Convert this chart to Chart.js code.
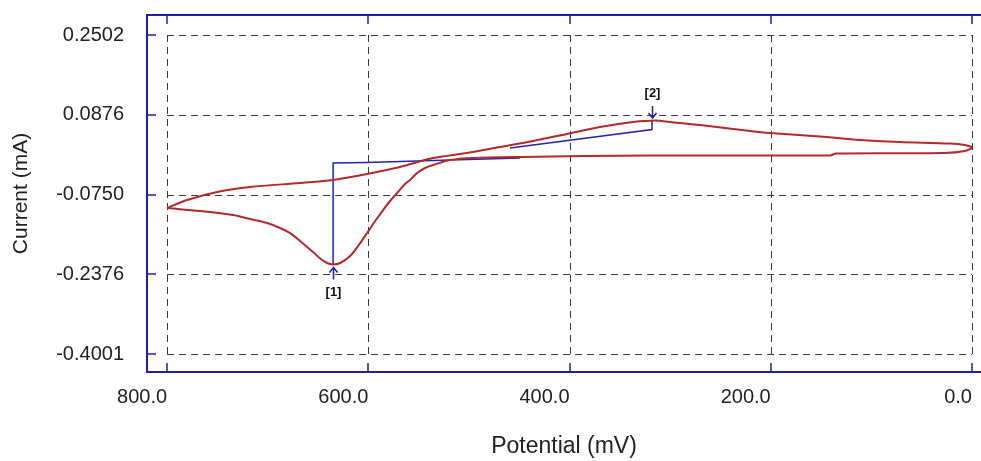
<!DOCTYPE html>
<html>
<head>
<meta charset="utf-8">
<title>Cyclic voltammogram</title>
<script src="https://cdn.jsdelivr.net/npm/chart.js@4.4.1/dist/chart.umd.min.js"></script>
<style>
  html, body { margin: 0; padding: 0; background: #fff; }
  #wrap { width: 981px; height: 461px; }
</style>
</head>
<body>
<div id="wrap"><canvas id="cv" width="981" height="461"></canvas></div>
<script>
// anodic sweep (upper branch), potential in mV, current in mA
const upperPotential = [0, 7.0, 21.9, 71.6, 111.3, 151.1, 200.7, 220.6, 270.3, 300.1, 315.0, 336.9, 369.7, 402.5, 436.3, 469.1, 501.9, 535.7, 568.5, 601.2, 635.0, 667.8, 717.5, 750.3, 780.1, 800];
const upperCurrent = [0.0219, 0.0260, 0.0290, 0.0321, 0.0361, 0.0433, 0.0504, 0.0545, 0.0667, 0.0728, 0.0759, 0.0728, 0.0626, 0.0484, 0.0341, 0.0219, 0.0096, -0.0005, -0.0189, -0.0332, -0.0454, -0.0515, -0.0597, -0.0699, -0.0862, -0.1025];

// cathodic sweep (lower branch)
const lowerPotential = [0, 7.0, 26.8, 135.2, 141.1, 320.0, 449.2, 495.9, 518.8, 535.7, 543.6, 551.5, 558.5, 563.5, 571.4, 578.4, 585.3, 593.2, 601.2, 610.2, 618.1, 628.0, 635.0, 641.0, 647.9, 654.9, 660.9, 667.8, 677.8, 687.7, 700.6, 717.5, 734.4, 767.2, 800];
const lowerCurrent = [0.0198, 0.0137, 0.0097, 0.0086, 0.0046, 0.0046, 0.0015, -0.0005, -0.0046, -0.0148, -0.0209, -0.0311, -0.0454, -0.0535, -0.0719, -0.0882, -0.1066, -0.1290, -0.1534, -0.1799, -0.2003, -0.2146, -0.2177, -0.2146, -0.2054, -0.1922, -0.1820, -0.1697, -0.1538, -0.1432, -0.1331, -0.1249, -0.1167, -0.1086, -0.1025];

// peak baselines
const base1Potential = [635.0, 635.0, 601.2, 518.8, 449.2];
const base1Current = [-0.2177, -0.0107, -0.0097, -0.0046, -0.0005];
const base2Potential = [459.1, 318.0, 318.0];
const base2Current = [0.0198, 0.0576, 0.0749];

// peak markers
const peakPotential = [635.0, 318.0];
const peakCurrent = [-0.2177, 0.0749];
const peakLabels = ["[1]", "[2]"];

const xTicks = [800, 600, 400, 200, 0];
const yTicks = [0.2502, 0.0876, -0.0750, -0.2376, -0.4001];

const toPoints = (xs, ys) => xs.map((x, i) => ({ x: x, y: ys[i] }));

const frameBlue = "#1e1ea6";
const textColor = "#222";
const fontFamily = "'Liberation Sans', Arial, sans-serif";

// dashed grid limited to the tick range, blue frame with inward ticks, peak arrows
const framePlugin = {
  id: "frame",
  beforeDatasetsDraw(chart) {
    const { ctx, scales } = chart;
    const x = scales.x, y = scales.y;
    const x0 = x.getPixelForValue(xTicks[0]), x1 = x.getPixelForValue(xTicks[xTicks.length - 1]);
    const y0 = y.getPixelForValue(yTicks[0]), y1 = y.getPixelForValue(yTicks[yTicks.length - 1]);
    ctx.save();
    ctx.strokeStyle = "#3a3a3a";
    ctx.lineWidth = 1;
    ctx.setLineDash([7, 5]);
    xTicks.forEach((v) => {
      const px = Math.round(x.getPixelForValue(v)) + 0.5;
      ctx.beginPath();
      ctx.moveTo(px, y0);
      ctx.lineTo(px, y1);
      ctx.stroke();
    });
    yTicks.forEach((v) => {
      const py = Math.round(y.getPixelForValue(v)) + 0.5;
      ctx.beginPath();
      ctx.moveTo(x0, py);
      ctx.lineTo(x1, py);
      ctx.stroke();
    });
    ctx.restore();
  },
  afterDatasetsDraw(chart) {
    const { ctx, chartArea, scales } = chart;
    const x = scales.x, y = scales.y;
    const { left, top, right, bottom } = chartArea;
    ctx.save();
    ctx.strokeStyle = frameBlue;
    ctx.lineWidth = 2;
    ctx.beginPath();
    ctx.moveTo(right + 2, top);
    ctx.lineTo(left, top);
    ctx.lineTo(left, bottom);
    ctx.lineTo(right + 2, bottom);
    ctx.stroke();
    ctx.lineWidth = 1.5;
    xTicks.forEach((v) => {
      const px = Math.round(x.getPixelForValue(v));
      ctx.beginPath();
      ctx.moveTo(px, top);
      ctx.lineTo(px, top + 9);
      ctx.moveTo(px, bottom);
      ctx.lineTo(px, bottom - 9);
      ctx.stroke();
    });
    yTicks.forEach((v) => {
      const py = Math.round(y.getPixelForValue(v));
      ctx.beginPath();
      ctx.moveTo(left, py);
      ctx.lineTo(left + 9, py);
      ctx.stroke();
    });

    // peak arrows and labels
    ctx.font = "bold 13px " + fontFamily;
    ctx.textAlign = "center";
    ctx.textBaseline = "middle";
    peakPotential.forEach((p, i) => {
      const px = Math.round(x.getPixelForValue(p)) + 0.5;
      const py = y.getPixelForValue(peakCurrent[i]);
      const dir = peakCurrent[i] < 0 ? 1 : -1; // label below a cathodic peak, above an anodic one
      const tip = py + dir * 3;
      const tail = py + dir * 15;
      ctx.strokeStyle = frameBlue;
      ctx.lineWidth = 1.5;
      ctx.beginPath();
      ctx.moveTo(px, tail);
      ctx.lineTo(px, tip);
      ctx.moveTo(px - 4, tip + dir * 5);
      ctx.lineTo(px, tip);
      ctx.lineTo(px + 4, tip + dir * 5);
      ctx.stroke();
      ctx.fillStyle = "#111";
      ctx.fillText(peakLabels[i], px, py + dir * 28);
    });
    ctx.restore();
  }
};

new Chart(document.getElementById("cv"), {
  type: "scatter",
  data: {
    datasets: [
      {
        label: "anodic",
        data: toPoints(upperPotential, upperCurrent),
        showLine: true,
        borderColor: "#b42a2a",
        borderWidth: 2,
        pointRadius: 0,
        tension: 0.3,
      },
      {
        label: "cathodic",
        data: toPoints(lowerPotential, lowerCurrent),
        showLine: true,
        borderColor: "#b42a2a",
        borderWidth: 2,
        pointRadius: 0,
        tension: 0.3,
      },
      {
        label: "baseline 1",
        data: toPoints(base1Potential, base1Current),
        showLine: true,
        borderColor: "#2424b4",
        borderWidth: 1.5,
        pointRadius: 0,
      },
      {
        label: "baseline 2",
        data: toPoints(base2Potential, base2Current),
        showLine: true,
        borderColor: "#2424b4",
        borderWidth: 1.5,
        pointRadius: 0,
      },
    ],
  },
  options: {
    responsive: false,
    animation: false,
    devicePixelRatio: 1,
    layout: { padding: { top: 15, right: 0, bottom: 0, left: 0 } },
    plugins: { legend: { display: false }, tooltip: { enabled: false } },
    scales: {
      x: {
        type: "linear",
        reverse: true,
        min: -9,
        max: 820,
        afterBuildTicks: (scale) => { scale.ticks = xTicks.map((v) => ({ value: v })); },
        afterFit: (scale) => {
          scale.height = 89;
          scale.paddingLeft = 0;
          scale.paddingRight = 0;
        },
        grid: { display: false, drawTicks: false },
        border: { display: false },
        ticks: {
          autoSkip: false,
          maxRotation: 0,
          align: "end",
          padding: 13,
          color: textColor,
          font: { family: fontFamily, size: 20 },
          callback: (v) => v.toFixed(1),
        },
        title: {
          display: true,
          text: "Potential (mV)",
          color: textColor,
          font: { family: fontFamily, size: 23 },
          padding: { top: 0, bottom: 1 },
        },
      },
      y: {
        type: "linear",
        min: -0.4368,
        max: 0.2910,
        afterBuildTicks: (scale) => { scale.ticks = yTicks.map((v) => ({ value: v })); },
        afterFit: (scale) => {
          scale.width = 147;
          scale.paddingTop = 0;
          scale.paddingBottom = 0;
        },
        grid: { display: false, drawTicks: false },
        border: { display: false },
        ticks: {
          autoSkip: false,
          padding: 23,
          color: textColor,
          font: { family: fontFamily, size: 20 },
          callback: (v) => v.toFixed(4),
        },
        title: {
          display: true,
          text: "Current (mA)",
          color: textColor,
          font: { family: fontFamily, size: 21 },
          padding: { top: 9, bottom: 0 },
        },
      },
    },
  },
  plugins: [framePlugin],
});
</script>
</body>
</html>
